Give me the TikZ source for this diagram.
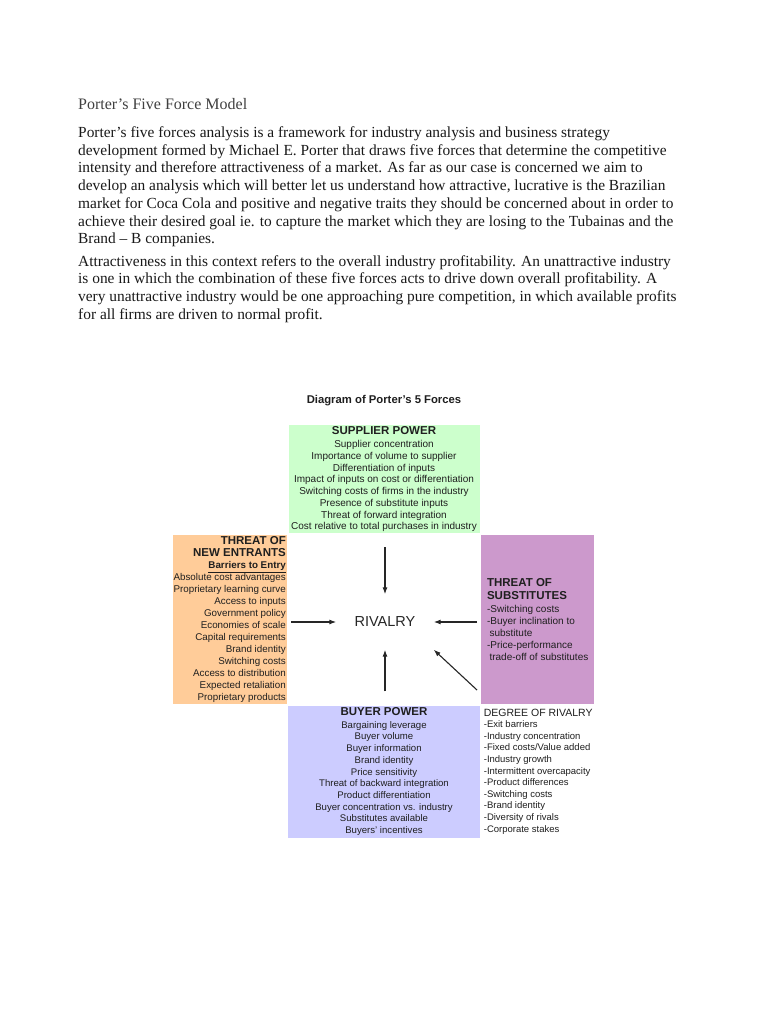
\documentclass[tikz,border=0pt]{standalone}
\usepackage{fontspec}
\setmainfont{Liberation Serif}
\setsansfont{Liberation Sans}
\usetikzlibrary{arrows.meta}

\definecolor{supplierfill}{HTML}{CCFFCC}
\definecolor{entrantsfill}{HTML}{FFCC99}
\definecolor{substfill}{HTML}{CC99CC}
\definecolor{buyerfill}{HTML}{CCCCFF}

\newcommand\forcehead[1]{{\bfseries\fontsize{11.5}{12}\selectfont #1}}

\begin{document}
\begin{tikzpicture}[x=1pt,y=-1pt,
	bodyline/.style={anchor=base west,inner sep=0pt,text=black!90,font=\fontsize{15.4}{17.7}\selectfont},
	forcebox/.style={inner sep=1pt,text=black!88,font=\sffamily\fontsize{10}{11.7}\selectfont},
	arr/.style={-{Latex[length=7pt,width=5pt]},line width=1.1pt,black!85}]
	\useasboundingbox[fill=white] (0,0) rectangle (768,1024);

	% text above the diagram
	\node(head) at (78,110)[anchor=base west,inner sep=0pt,text=black!75,font=\fontsize{16}{18}\selectfont]{Porter's Five Force Model};
	\node(pa1) at (78,137.5)[bodyline]{Porter's five forces analysis is a framework for industry analysis and business strategy};
	\node(pa2) at (78,155.2)[bodyline]{development formed by Michael E. Porter that draws five forces that determine the competitive};
	\node(pa3) at (78,172.9)[bodyline]{intensity and therefore attractiveness of a market. As far as our case is concerned we aim to};
	\node(pa4) at (78,190.6)[bodyline]{develop an analysis which will better let us understand how attractive, lucrative is the Brazilian};
	\node(pa5) at (78,208.3)[bodyline]{market for Coca Cola and positive and negative traits they should be concerned about in order to};
	\node(pa6) at (78,226.0)[bodyline]{achieve their desired goal ie. to capture the market which they are losing to the Tubainas and the};
	\node(pa7) at (78,243.7)[bodyline]{Brand – B companies.};
	\node(pb1) at (78,266.0)[bodyline]{Attractiveness in this context refers to the overall industry profitability. An unattractive industry};
	\node(pb2) at (78,283.7)[bodyline]{is one in which the combination of these five forces acts to drive down overall profitability. A};
	\node(pb3) at (78,301.4)[bodyline]{very unattractive industry would be one approaching pure competition, in which available profits};
	\node(pb4) at (78,319.1)[bodyline]{for all firms are driven to normal profit.};

	% the diagram
	\node(diagtitle) at (384,401)[text=black!88,font=\sffamily\bfseries\fontsize{11.3}{13}\selectfont]{Diagram of Porter's 5 Forces};

	\node(supplier) at (384,479)[forcebox,fill=supplierfill,minimum width=191,minimum height=108,align=center]{\forcehead{SUPPLIER POWER}\\[2pt]
		Supplier concentration\\ Importance of volume to supplier\\ Differentiation of inputs\\ Impact of inputs on cost or differentiation\\
		Switching costs of firms in the industry\\ Presence of substitute inputs\\ Threat of forward integration\\ Cost relative to total purchases in industry};

	\node(entrants) at (287,619.5)[forcebox,anchor=east,fill=entrantsfill,minimum width=114,minimum height=169,align=right,font=\sffamily\fontsize{9.8}{12}\selectfont]{\forcehead{THREAT OF}\\ \forcehead{NEW ENTRANTS}\\
		\underline{\textbf{Barriers to Entry}}\\ Absolute cost advantages\\ Proprietary learning curve\\ Access to inputs\\ Government policy\\
		Economies of scale\\ Capital requirements\\ Brand identity\\ Switching costs\\ Access to distribution\\ Expected retaliation\\ Proprietary products};

	\node(subst) at (481,619.5)[forcebox,anchor=west,fill=substfill,minimum width=113,minimum height=169,align=left,font=\sffamily\fontsize{10}{12}\selectfont]{\forcehead{THREAT OF}\\[1.5pt] \forcehead{SUBSTITUTES}\\[1pt]
		-Switching costs\\ -Buyer inclination to\\ \hspace{2.5pt}substitute\\ -Price-performance\\ \hspace{2.5pt}trade-off of substitutes};

	\node(buyer) at (384,771.5)[forcebox,fill=buyerfill,minimum width=192,minimum height=132,align=center,font=\sffamily\fontsize{9.6}{11.7}\selectfont]{\forcehead{BUYER POWER}\\[1pt]
		Bargaining leverage\\ Buyer volume\\ Buyer information\\ Brand identity\\ Price sensitivity\\ Threat of backward integration\\
		Product differentiation\\ Buyer concentration vs. industry\\ Substitutes available\\ Buyers' incentives};

	\node(degree) at (481,771.5)[forcebox,anchor=west,minimum width=114,minimum height=132,align=left,font=\sffamily\fontsize{9.5}{11.6}\selectfont]{{\fontsize{10.5}{11.6}\selectfont DEGREE OF RIVALRY}\\
		-Exit barriers\\ -Industry concentration\\ -Fixed costs/Value added\\ -Industry growth\\ -Intermittent overcapacity\\
		-Product differences\\ -Switching costs\\ -Brand identity\\ -Diversity of rivals\\ -Corporate stakes};

	\node(rivalry) at (385,622)[minimum width=97,minimum height=55,text=black!85,font=\sffamily\fontsize{14.5}{16}\selectfont]{RIVALRY};
	\coordinate(diagtail) at (477,690);

	\draw[arr,shorten <=14pt] (supplier.south -| rivalry.north) to (rivalry.north);
	\draw[arr,shorten <=4pt] (entrants.east |- rivalry.west) to (rivalry.west);
	\draw[arr,shorten <=4pt] (subst.west |- rivalry.east) to (rivalry.east);
	\draw[arr,shorten <=14pt] (buyer.north -| rivalry.south) to (rivalry.south);
	\draw[arr] (diagtail) to (rivalry.south east);
\end{tikzpicture}
\end{document}
